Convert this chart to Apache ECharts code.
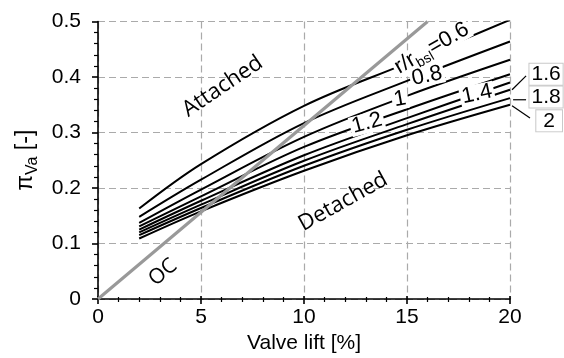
<!DOCTYPE html>
<html><head><meta charset="utf-8">
<script src="https://cdn.jsdelivr.net/npm/echarts@6/dist/echarts.min.js"></script>
<style>html,body{margin:0;padding:0;background:#fff}#c{width:564px;height:358px}</style>
</head><body><div id="c"></div>
<script>
// Data
const valveLift = [2, 5, 10, 15, 20];
const r06 = [0.163, 0.243, 0.348, 0.425, 0.503];
const r08 = [0.148, 0.215, 0.317, 0.393, 0.464];
const r10 = [0.137, 0.197, 0.292, 0.366, 0.431];
const r12 = [0.131, 0.185, 0.274, 0.342, 0.405];
const r14 = [0.125, 0.177, 0.259, 0.326, 0.390];
const r16 = [0.120, 0.170, 0.249, 0.315, 0.377];
const r18 = [0.115, 0.164, 0.240, 0.305, 0.362];
const r20 = [0.109, 0.158, 0.231, 0.295, 0.350];
const ocX = [0, 16];
const ocY = [0, 0.5];
const xTicks = [0, 5, 10, 15, 20];
const yTicks = [0, 0.1, 0.2, 0.3, 0.4, 0.5];

const curves = [r06, r08, r10, r12, r14, r16, r18, r20];
const FONT = '"Liberation Sans", Arial, sans-serif';
const OFONT = '"Open Sans", sans-serif';

const chart = echarts.init(document.getElementById('c'), null, {renderer: 'canvas'});

function pts(ys) { return valveLift.map((x, i) => [x, ys[i]]); }

const curveSeries = curves.map(ys => ({
  type: 'line', data: pts(ys), smooth: 0.35, symbol: 'none', clip: true,
  lineStyle: {color: '#000', width: 2}, z: 3, silent: true
}));

const ocSeries = {
  type: 'line', data: ocX.map((x, i) => [x, ocY[i]]), symbol: 'none', clip: true,
  lineStyle: {color: '#999', width: 3.2}, z: 4, silent: true
};

const lbl = (x, y, text, rot, extra) => ({
  value: [x, y],
  label: Object.assign({show: true, formatter: text, rotate: rot, color: '#000', textBorderWidth: 0}, extra || {})
});
const onCurve = {backgroundColor: '#fff', padding: [-1, 2, -1, 2], fontSize: 22, color: '#000', fontFamily: FONT};
const boxed = {backgroundColor: '#fff', borderColor: '#c8c8c8', borderWidth: 1, padding: [1, 2, 0, 2], lineHeight: 20, fontSize: 21, color: '#000', fontFamily: FONT};

const textSeries = {
  type: 'scatter', symbolSize: 0, clip: false, z: 10, silent: true,
  itemStyle: {color: '#000', opacity: 1},
  label: {show: true, position: 'inside', color: '#000', textBorderWidth: 0},
  data: [
    lbl(6.05, 0.383, 'Attached', 34, {fontSize: 22, fontFamily: OFONT}),
    lbl(11.9, 0.175, 'Detached', 29, {fontSize: 22, fontFamily: OFONT}),
    lbl(3.15, 0.048, 'OC', 40, {fontSize: 21, fontFamily: OFONT}),
    lbl(15.97, 0.402, '0.8', 12, onCurve),
    lbl(14.66, 0.360, '1', 10, onCurve),
    lbl(13.06, 0.317, '1.2', 15, onCurve),
    lbl(18.4, 0.369, '1.4', 12, onCurve),
    lbl(16.2, 0.452, '{a|r/r}{s|bsl}{a|=0.6}', 30, Object.assign({}, onCurve, {
      rich: {a: {fontSize: 22, fontFamily: FONT, color: '#000', verticalAlign: 'bottom'},
             s: {fontSize: 14, fontFamily: FONT, color: '#000', verticalAlign: 'bottom', padding: [0, 0, -3, 0]}}
    })),
    lbl(21.75, 0.405, '1.6', 0, boxed),
    lbl(21.75, 0.364, '1.8', 0, boxed),
    lbl(21.9, 0.321, '2', 0, Object.assign({}, boxed, {padding: [1, 7, 0, 7]}))
  ]
};

const leaderData = [
  [[20.1, 0.377], [20.78, 0.402]],
  [[20.15, 0.359], [20.78, 0.359]],
  [[20.1, 0.348], [20.97, 0.326]]
];

const splitStyle = {show: true, lineStyle: {color: '#aaa', width: 1.2, type: [7, 4]}};

chart.setOption({
  animation: false,
  backgroundColor: '#fff',
  grid: {left: 98, right: 54, top: 21.5, bottom: 59, containLabel: false, outerBoundsMode: 'none'},
  xAxis: [{
    type: 'value', min: 0, max: 20, interval: 5,
    name: 'Valve lift [%]', nameLocation: 'middle', nameGap: 33,
    nameTextStyle: {fontSize: 21, color: '#000', fontFamily: FONT},
    axisLine: {show: true, onZero: false, lineStyle: {color: '#000', width: 1.6}},
    axisTick: {show: true, length: 5, lineStyle: {color: '#000', width: 1.6}},
    minorTick: {show: true, splitNumber: 5, length: 3, lineStyle: {color: '#000', width: 1.2}},
    axisLabel: {fontSize: 21, color: '#000', fontFamily: FONT, margin: 8,
      formatter: v => xTicks.includes(v) ? String(v) : ''},
    splitLine: splitStyle
  }, {
    type: 'value', min: 0, max: 20, interval: 5, position: 'bottom',
    axisLine: {show: false}, axisLabel: {show: false}, splitLine: {show: false},
    axisTick: {show: true, inside: true, length: 3, lineStyle: {color: '#000', width: 1.6}},
    minorTick: {show: true, splitNumber: 5, length: 2, lineStyle: {color: '#000', width: 1.2}}
  }],
  yAxis: {
    type: 'value', min: 0, max: 0.5, interval: 0.1,
    name: '{p|π}{s|Va}{p| [-]}', nameLocation: 'middle', nameGap: 58, nameRotate: 90,
    nameTextStyle: {rich: {
      p: {fontSize: 23, color: '#000', fontFamily: FONT, verticalAlign: 'bottom'},
      s: {fontSize: 16, color: '#000', fontFamily: FONT, verticalAlign: 'bottom', padding: [0, 0, -4, 0]}
    }},
    axisLine: {show: true, lineStyle: {color: '#000', width: 1.6}},
    axisTick: {show: true, length: 6, lineStyle: {color: '#000', width: 1.6}},
    minorTick: {show: true, splitNumber: 5, length: 4, lineStyle: {color: '#000', width: 1.2}},
    axisLabel: {fontSize: 21, color: '#000', fontFamily: FONT, margin: 17,
      formatter: v => { const t = yTicks.find(k => Math.abs(k - v) < 1e-9); return t === undefined ? '' : String(t); }},
    splitLine: splitStyle
  },
  series: [...curveSeries, ocSeries, textSeries]
});

// leader lines for the outside labels
const gfx = leaderData.map(seg => {
  const p = seg.map(d => chart.convertToPixel({gridIndex: 0}, d));
  return {type: 'line', shape: {x1: p[0][0], y1: p[0][1], x2: p[1][0], y2: p[1][1]},
    style: {stroke: '#000', lineWidth: 1.2}, z: 20, silent: true};
});
chart.setOption({graphic: gfx});
</script></body></html>
